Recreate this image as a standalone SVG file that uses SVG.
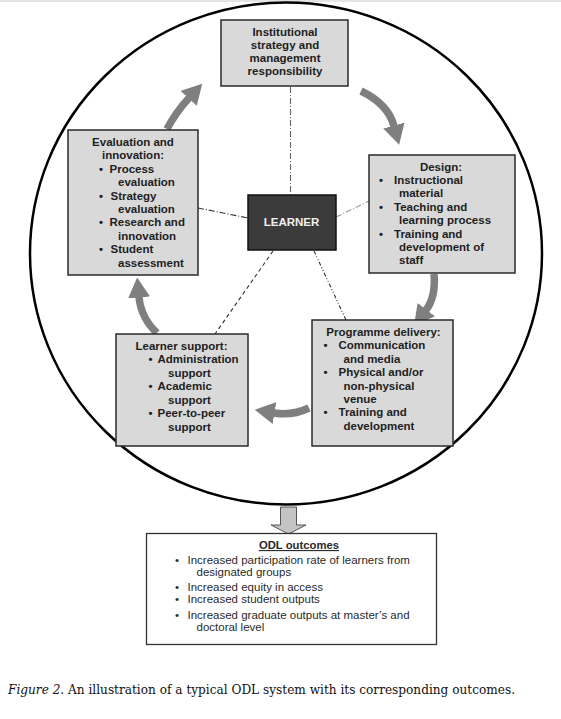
<svg xmlns="http://www.w3.org/2000/svg" width="561" height="719" viewBox="0 0 561 719">
<style>
.t{font-family:"Liberation Sans",Arial,sans-serif;font-size:11.5px;font-weight:bold;fill:#1e1e1e}
.c{text-anchor:middle}
.box{fill:#d9d9d9;stroke:#2a2a2a;stroke-width:1.5}
.flow{fill:none;stroke:#7f7f7f;stroke-width:7.5}
.dl{fill:none;stroke:#333;stroke-width:1.1}
.o{font-family:"Liberation Sans",Arial,sans-serif;font-size:11.5px;fill:#2a2a2a}
</style>
<defs>
<marker id="head" viewBox="0 -11 20 22" refX="0.5" refY="0" markerWidth="20" markerHeight="22" markerUnits="userSpaceOnUse" orient="auto">
<path d="M0,-11 L20,0 L0,11 z" fill="#7f7f7f"/>
</marker>
</defs>
<rect x="0" y="0" width="561" height="719" fill="#ffffff"/>
<rect x="0" y="0" width="561" height="2" fill="#e4e4e4"/>
<ellipse id="frame" cx="286" cy="253.5" rx="256" ry="251" fill="none" stroke="#000" stroke-width="2.5"/>

<g id="connectors">
<path class="dl" d="M290.5,87 L290.5,195" stroke-dasharray="6 2 1 2" style="stroke:#666"/>
<path class="dl" d="M198,208 L248,218" stroke-dasharray="6 2 1 2"/>
<path class="dl" d="M336,217 L369,201" stroke-dasharray="6 2 1 2" style="stroke:#999"/>
<path class="dl" d="M273,251 L215,334" stroke-dasharray="4 3"/>
<path class="dl" d="M314,251 L346,320" stroke-dasharray="4 2 1 2 1 2"/>
<path class="flow" d="M361,91 Q388,104 394,126" marker-end="url(#head)"/>
<path class="flow" d="M434,274 Q436,297 426,310" marker-end="url(#head)"/>
<path class="flow" d="M309,408 Q292,416 274,413" marker-end="url(#head)"/>
<path class="flow" d="M157,333 Q141,318 139,297" marker-end="url(#head)"/>
<path class="flow" d="M167,129 Q176,112 189,98" marker-end="url(#head)"/>
<path d="M280.5,507 L296.5,507 L296.5,525 L306,525 L288.5,534 L271,525 L280.5,525 z" fill="#c4c4c4" stroke="#555" stroke-width="1"/>
</g>

<g id="institutional">
<rect class="box" x="221" y="20" width="127" height="66"/>
<text class="t c" x="285" y="36">Institutional</text>
<text class="t c" x="285" y="49">strategy and</text>
<text class="t c" x="285" y="62">management</text>
<text class="t c" x="285" y="75">responsibility</text>
</g>

<g id="evaluation">
<rect class="box" x="68" y="130" width="130" height="145"/>
<text class="t c" x="133" y="146">Evaluation and</text>
<text class="t c" x="133" y="159.4">innovation:</text>
<text class="t" x="99" y="172.8">•</text><text class="t" x="109.5" y="172.8">Process</text>
<text class="t" x="118" y="186.2">evaluation</text>
<text class="t" x="99" y="199.6">•</text><text class="t" x="110.5" y="199.6">Strategy</text>
<text class="t" x="118" y="213">evaluation</text>
<text class="t" x="99" y="226.4">•</text><text class="t" x="109.5" y="226.4">Research and</text>
<text class="t" x="118" y="239.8">innovation</text>
<text class="t" x="99" y="253.2">•</text><text class="t" x="110.5" y="253.2">Student</text>
<text class="t" x="118" y="266.6">assessment</text>
</g>

<g id="design">
<rect class="box" x="369" y="155" width="146" height="118"/>
<text class="t c" x="441" y="170.5">Design:</text>
<text class="t" x="379" y="183.9">•</text><text class="t" x="394" y="183.9">Instructional</text>
<text class="t" x="399" y="197.3">material</text>
<text class="t" x="379" y="210.7">•</text><text class="t" x="394" y="210.7">Teaching and</text>
<text class="t" x="399" y="224.1">learning process</text>
<text class="t" x="379" y="237.5">•</text><text class="t" x="394" y="237.5">Training and</text>
<text class="t" x="399" y="250.9">development of</text>
<text class="t" x="399" y="264.3">staff</text>
</g>

<g id="learner">
<rect x="248" y="195" width="88" height="55" fill="#3b3b3b" stroke="#111" stroke-width="1.5"/>
<text class="t c" x="291.5" y="225.5" style="fill:#f0f0f0">LEARNER</text>
</g>

<g id="programme-delivery">
<rect class="box" x="312" y="320" width="141" height="126"/>
<text class="t c" x="383.5" y="336">Programme delivery:</text>
<text class="t" x="323.5" y="349.4">•</text><text class="t" x="338.5" y="349.4">Communication</text>
<text class="t" x="343.5" y="362.8">and media</text>
<text class="t" x="323.5" y="376.2">•</text><text class="t" x="338.5" y="376.2">Physical and/or</text>
<text class="t" x="343.5" y="389.6">non-physical</text>
<text class="t" x="343.5" y="403">venue</text>
<text class="t" x="323.5" y="416.4">•</text><text class="t" x="338.5" y="416.4">Training and</text>
<text class="t" x="343.5" y="429.8">development</text>
</g>

<g id="learner-support">
<rect class="box" x="116" y="334" width="132" height="112"/>
<text class="t c" x="181.5" y="349.5">Learner support:</text>
<text class="t" x="148.5" y="363.2">•</text><text class="t" x="157.5" y="363.2">Administration</text>
<text class="t" x="168" y="376.6">support</text>
<text class="t" x="148.5" y="390.3">•</text><text class="t" x="157.5" y="390.3">Academic</text>
<text class="t" x="168" y="403.7">support</text>
<text class="t" x="148.5" y="417.4">•</text><text class="t" x="157.5" y="417.4">Peer-to-peer</text>
<text class="t" x="168" y="430.8">support</text>
</g>

<g id="odl-outcomes">
<rect x="146.5" y="533.5" width="290" height="111" fill="#fff" stroke="#333" stroke-width="1.3"/>
<text class="t c" x="299" y="549" style="font-size:11.3px;fill:#2a2a2a;text-decoration:underline">ODL outcomes</text>
<text class="o" x="175" y="564">•</text><text class="o" x="187.5" y="564">Increased participation rate of learners from</text>
<text class="o" x="196.5" y="575.5">designated groups</text>
<text class="o" x="175" y="591">•</text><text class="o" x="187.5" y="591">Increased equity in access</text>
<text class="o" x="175" y="603">•</text><text class="o" x="187.5" y="603">Increased student outputs</text>
<text class="o" x="175" y="619">•</text><text class="o" x="187.5" y="619">Increased graduate outputs at master’s and</text>
<text class="o" x="196.5" y="631">doctoral level</text>
</g>

<text x="8" y="694" textLength="507" lengthAdjust="spacingAndGlyphs" style="font-family:'DejaVu Serif','Liberation Serif',serif;font-size:12.5px;fill:#111"><tspan font-style="italic">Figure 2</tspan>. An illustration of a typical ODL system with its corresponding outcomes.</text>
</svg>
